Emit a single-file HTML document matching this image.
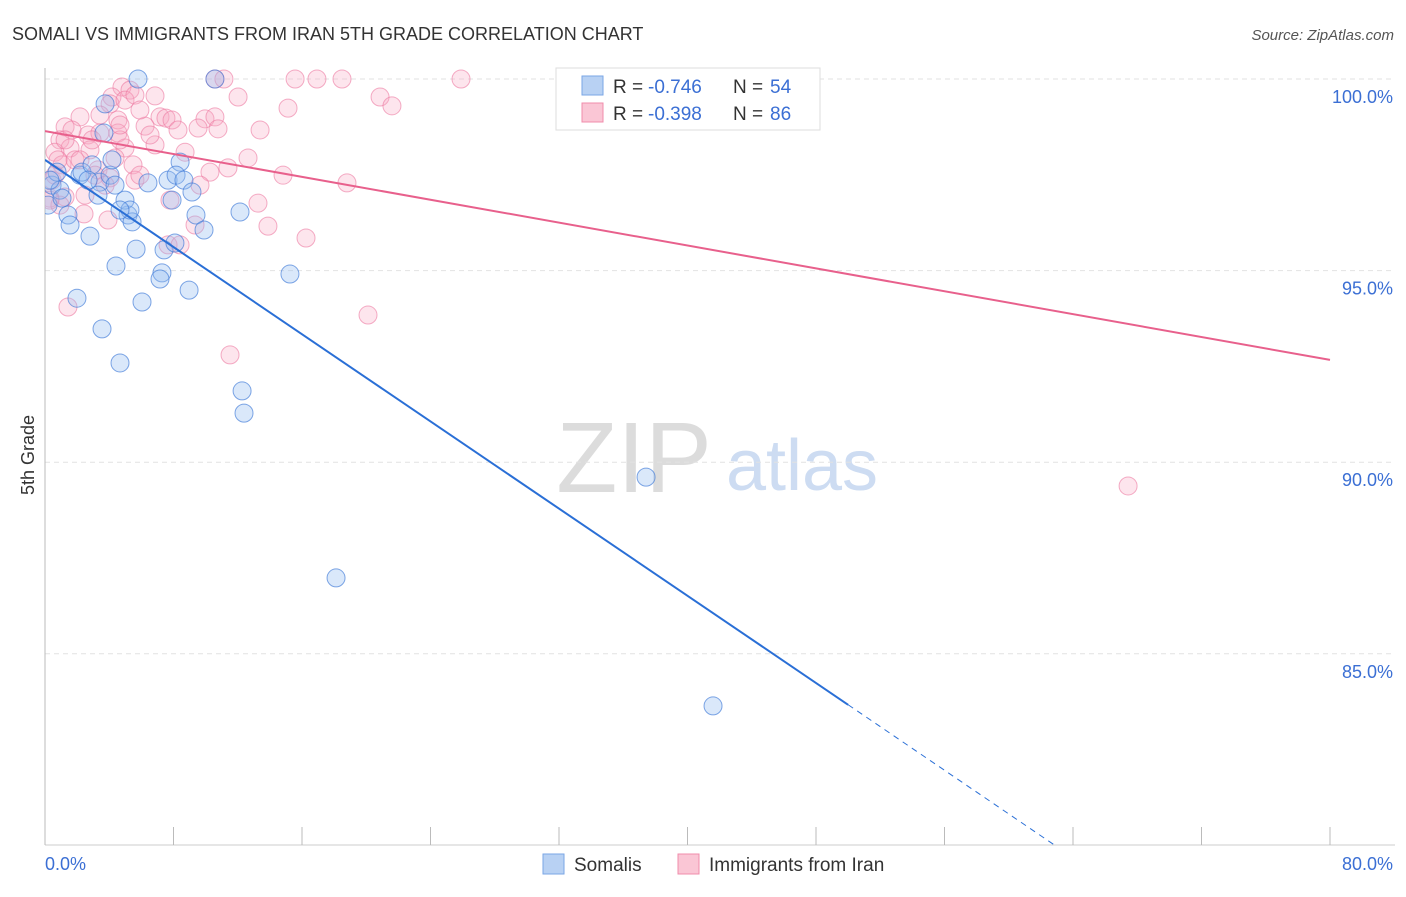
<!DOCTYPE html>
<html><head><meta charset="utf-8"><style>
body{margin:0;background:#fff;font-family:"Liberation Sans",sans-serif}
svg text{font-family:"Liberation Sans",sans-serif}
</style></head><body>
<svg id="chart" width="1406" height="892" viewBox="0 0 1406 892">
<text x="12" y="40" font-size="18" fill="#333">SOMALI VS IMMIGRANTS FROM IRAN 5TH GRADE CORRELATION CHART</text>
<text x="1394" y="40" font-size="15" fill="#555" text-anchor="end" font-style="italic">Source: ZipAtlas.com</text>
<g><text x="634" y="492" font-size="100" fill="#dcdcdc" font-family="Liberation Serif" text-anchor="middle">ZIP</text><text x="802" y="490" font-size="72" fill="#cddcf2" text-anchor="middle">atlas</text></g>
<defs><clipPath id="plotclip"><rect x="45" y="60" width="1350" height="785"/></clipPath></defs>
<g id="grid"></g><g id="axes"></g><g id="marks" clip-path="url(#plotclip)"></g>
<text transform="translate(34,455) rotate(-90)" font-size="18" fill="#333" text-anchor="middle">5th Grade</text>
<g>
<rect x="556" y="68" width="264" height="62" fill="#fff" stroke="#ddd"/>
<rect x="582" y="76" width="21" height="19" fill="#b8d1f3" stroke="#7aa6e6"/>
<rect x="582" y="103" width="21" height="19" fill="#fac6d5" stroke="#f08cab"/>
<text x="613" y="93" font-size="19" fill="#333">R =</text><text x="648" y="93" font-size="19" fill="#3b6fd4">-0.746</text>
<text x="733" y="93" font-size="19" fill="#333">N =</text><text x="770" y="93" font-size="19" fill="#3b6fd4">54</text>
<text x="613" y="120" font-size="19" fill="#333">R =</text><text x="648" y="120" font-size="19" fill="#3b6fd4">-0.398</text>
<text x="733" y="120" font-size="19" fill="#333">N =</text><text x="770" y="120" font-size="19" fill="#3b6fd4">86</text>
</g>
<g>
<rect x="543" y="854" width="21" height="20" fill="#b8d1f3" stroke="#7aa6e6"/>
<text x="574" y="871" font-size="19" fill="#333">Somalis</text>
<rect x="678" y="854" width="21" height="20" fill="#fac6d5" stroke="#f08cab"/>
<text x="709" y="871" font-size="19" fill="#333">Immigrants from Iran</text>
</g>
</svg>
<script>
const xTicks=[0,8,16,24,32,40,48,56,64,72,80];
const yTicks=[85,90,95,100];
const yTickLabels=["85.0%","90.0%","95.0%","100.0%"];
const somaliX=[5.79,10.58,3.74,0.44,0.75,0.19,1.43,1.56,2.80,2.18,3.42,2.30,4.05,4.17,2.93,3.30,4.36,5.17,4.98,5.42,6.41,7.66,8.41,8.16,8.65,9.15,7.91,9.40,9.90,12.14,5.67,7.41,8.09,4.42,7.28,7.16,15.25,8.97,1.99,6.04,3.55,4.67,12.27,12.39,3.67,0.93,37.42,18.12,41.59,0.31,5.29,2.68,4.67,1.06];
const somaliY=[100,100,99.35,97.23,97.57,96.71,96.45,96.19,95.90,97.49,97.31,97.57,97.49,97.89,97.76,96.97,97.23,96.45,96.84,96.27,97.29,97.36,97.83,97.49,97.36,97.05,96.84,96.45,96.06,96.53,95.56,95.54,95.72,95.12,94.94,94.78,94.91,94.49,94.28,94.18,93.48,92.59,91.86,91.28,98.59,97.10,89.61,86.98,83.64,97.36,96.58,97.36,96.58,96.89];
const iranX=[10.58,11.14,15.57,16.93,18.49,25.90,4.79,5.29,4.17,6.85,12.02,15.13,20.86,21.60,4.05,4.98,2.18,3.42,4.54,7.16,7.53,7.91,9.96,10.58,1.25,6.23,8.28,9.53,10.77,13.39,0.93,2.68,3.42,4.54,4.98,6.85,8.72,1.56,0.62,2.80,12.64,4.36,5.48,10.27,11.39,14.82,18.80,3.30,4.05,5.60,0.44,1.25,13.26,13.88,16.25,9.34,7.66,2.43,20.11,1.43,11.52,67.43,0.31,1.06,1.87,3.11,4.67,5.91,2.93,2.18,3.74,7.78,0.62,0.81,4.67,5.60,1.68,8.41,9.65,6.54,3.92,2.49,0.93,5.91,1.25,0.31];
const iranY=[100,100,100,100,100,100,99.79,99.71,99.53,99.56,99.53,99.24,99.53,99.30,99.35,99.45,99.01,99.06,98.93,99.01,98.98,98.93,98.96,99.01,98.75,98.77,98.67,98.72,98.70,98.67,98.41,98.54,98.59,98.59,98.20,98.28,98.09,98.20,98.09,98.15,97.94,97.94,97.76,97.57,97.68,97.49,97.29,97.63,97.42,97.36,97.36,96.92,96.76,96.16,95.85,96.19,95.67,96.48,93.84,94.05,92.80,89.38,96.89,97.76,97.89,97.49,98.41,97.49,98.41,97.89,97.23,96.84,97.49,97.89,98.80,99.58,98.67,95.67,97.23,98.54,96.32,96.97,96.71,99.19,98.41,96.84];
const somaliTrend=[[0,97.89],[50,83.67],[65.9,79.14]];
const iranTrend=[[0,98.64],[80,92.67]];
const NS="http://www.w3.org/2000/svg";
const X=v=>45+v/80*1285;
const Y=v=>79+(100-v)/5*191.6;
function mk(t,a,p){const e=document.createElementNS(NS,t);for(const k in a)e.setAttribute(k,a[k]);p.appendChild(e);return e;}
const grid=document.getElementById('grid'),axes=document.getElementById('axes'),marks=document.getElementById('marks');
yTicks.forEach((t,i)=>{
 const l=mk('line',{x1:45,x2:1395,y1:Y(t),y2:Y(t),stroke:'#e2e2e2','stroke-dasharray':'5,4'},grid);
 
 
 const tx=mk('text',{x:1393,y:Y(t)+24,'font-size':18,fill:'#3b6fd4','text-anchor':'end'},axes);
 tx.textContent=yTickLabels[i];
 
 
});
const ax=mk('line',{x1:45,x2:45,y1:68,y2:845,stroke:'#bbb'},axes);


const bx=mk('line',{x1:45,x2:1395,y1:845,y2:845,stroke:'#ccc'},axes);


xTicks.forEach(t=>{
 const l=mk('line',{x1:X(t),x2:X(t),y1:827,y2:845,stroke:'#bbb'},axes);
 
 
});
const xl0=mk('text',{x:45,y:870,'font-size':18,fill:'#3b6fd4'},axes);xl0.textContent=xTicks[0].toFixed(1)+'%';


const xl1=mk('text',{x:1393,y:870,'font-size':18,fill:'#3b6fd4','text-anchor':'end'},axes);xl1.textContent=xTicks[xTicks.length-1].toFixed(1)+'%';


iranX.forEach((x,i)=>{
 const c=mk('circle',{cx:X(x),cy:Y(iranY[i]),r:9,fill:'rgba(248,170,195,0.3)',stroke:'rgba(236,120,160,0.6)','stroke-width':1},marks);
 
 
});
somaliX.forEach((x,i)=>{
 const c=mk('circle',{cx:X(x),cy:Y(somaliY[i]),r:9,fill:'rgba(150,190,240,0.35)',stroke:'rgba(60,120,215,0.65)','stroke-width':1},marks);
 
 
});
const pl=mk('line',{x1:X(iranTrend[0][0]),y1:Y(iranTrend[0][1]),x2:X(iranTrend[1][0]),y2:Y(iranTrend[1][1]),stroke:'#e8608c','stroke-width':2},marks);


const bl=mk('line',{x1:X(somaliTrend[0][0]),y1:Y(somaliTrend[0][1]),x2:X(somaliTrend[1][0]),y2:Y(somaliTrend[1][1]),stroke:'#2a6fd6','stroke-width':2},marks);


const bd=mk('line',{x1:X(somaliTrend[1][0]),y1:Y(somaliTrend[1][1]),x2:X(somaliTrend[2][0]),y2:Y(somaliTrend[2][1]),stroke:'#2a6fd6','stroke-width':1,'stroke-dasharray':'6,5'},marks);


</script>
</body></html>
